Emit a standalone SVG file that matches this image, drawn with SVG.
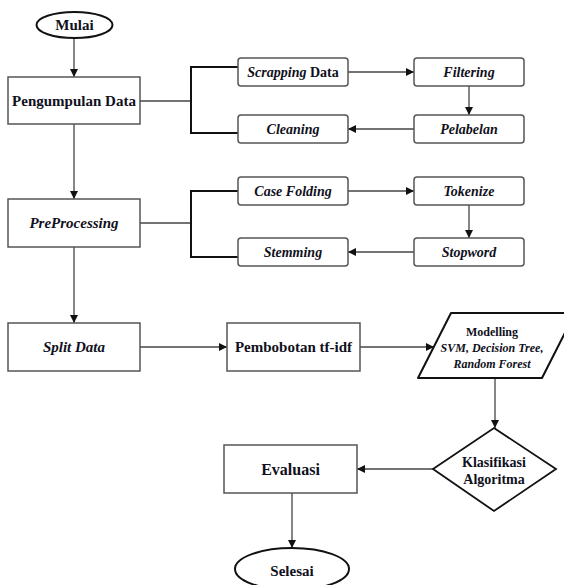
<svg xmlns="http://www.w3.org/2000/svg" width="564" height="585" viewBox="0 0 564 585">
<style>
text{font-family:'Liberation Serif','Times New Roman',serif;font-weight:bold;fill:#101020;text-anchor:middle;dominant-baseline:central}
.it{font-style:italic}
.box{fill:#fff;stroke:#555;stroke-width:1.5}
.sbox{fill:#fff;stroke:#555;stroke-width:1.5}
.term{fill:#fff;stroke:#111;stroke-width:2}
.con{fill:none;stroke:#444;stroke-width:1.3}
.br{fill:none;stroke:#111;stroke-width:2}
</style>
<defs>
<marker id="ah" viewBox="0 0 10 10" refX="10" refY="5" markerWidth="8" markerHeight="8" markerUnits="userSpaceOnUse" orient="auto">
<path d="M0,0 L10,5 L0,10 Z" fill="#111"/>
</marker>
</defs>
<rect width="564" height="585" fill="#fff"/>
<g id="connectors">
<line class="con" x1="74" y1="38" x2="74" y2="77" marker-end="url(#ah)"/>
<line class="con" x1="74" y1="124" x2="74" y2="199" marker-end="url(#ah)"/>
<line class="con" x1="74" y1="247" x2="74" y2="323" marker-end="url(#ah)"/>
<line class="con" x1="140" y1="101" x2="191" y2="101"/>
<path class="br" d="M238,67 H191 V133 H238"/>
<line class="con" x1="140" y1="223" x2="191" y2="223"/>
<path class="br" d="M238,191 H191 V257 H238"/>
<line class="con" x1="348" y1="72" x2="414" y2="72" marker-end="url(#ah)"/>
<line class="con" x1="469" y1="86" x2="469" y2="115" marker-end="url(#ah)"/>
<line class="con" x1="414" y1="129" x2="348" y2="129" marker-end="url(#ah)"/>
<line class="con" x1="348" y1="191" x2="414" y2="191" marker-end="url(#ah)"/>
<line class="con" x1="469" y1="204" x2="469" y2="238" marker-end="url(#ah)"/>
<line class="con" x1="414" y1="252" x2="348" y2="252" marker-end="url(#ah)"/>
<line class="con" x1="140" y1="347" x2="227" y2="347" marker-end="url(#ah)"/>
<line class="con" x1="360" y1="347" x2="434" y2="347" marker-end="url(#ah)"/>
<line class="con" x1="495" y1="378" x2="495" y2="428" marker-end="url(#ah)"/>
<line class="con" x1="433" y1="469" x2="357" y2="469" marker-end="url(#ah)"/>
<line class="con" x1="292" y1="493" x2="292" y2="548" marker-end="url(#ah)"/>
</g>
<g id="mulai">
<ellipse class="term" cx="74.5" cy="25" rx="38" ry="13"/>
<text x="74.5" y="25" font-size="15">Mulai</text>
</g>
<g id="pengumpulan">
<rect class="box" x="8" y="77" width="132" height="47"/>
<text x="74" y="101" font-size="15">Pengumpulan Data</text>
</g>
<g id="preprocessing">
<rect class="box" x="8" y="199" width="132" height="48"/>
<text class="it" x="74" y="223" font-size="15">PreProcessing</text>
</g>
<g id="split">
<rect class="box" x="8" y="323" width="132" height="48"/>
<text class="it" x="74" y="347" font-size="15">Split Data</text>
</g>
<g id="scrapping">
<rect class="sbox" x="238" y="58" width="110" height="28" rx="3"/>
<text x="293" y="72" font-size="14"><tspan class="it">Scrapping</tspan> Data</text>
</g>
<g id="filtering">
<rect class="sbox" x="414" y="58" width="110" height="28" rx="3"/>
<text class="it" x="469" y="72" font-size="14">Filtering</text>
</g>
<g id="cleaning">
<rect class="sbox" x="238" y="115" width="110" height="28" rx="3"/>
<text class="it" x="293" y="129" font-size="14">Cleaning</text>
</g>
<g id="pelabelan">
<rect class="sbox" x="414" y="115" width="110" height="28" rx="3"/>
<text class="it" x="469" y="129" font-size="14">Pelabelan</text>
</g>
<g id="casefolding">
<rect class="sbox" x="238" y="177" width="110" height="28" rx="3"/>
<text class="it" x="293" y="191" font-size="14">Case Folding</text>
</g>
<g id="tokenize">
<rect class="sbox" x="414" y="177" width="110" height="28" rx="3"/>
<text class="it" x="469" y="191" font-size="14">Tokenize</text>
</g>
<g id="stemming">
<rect class="sbox" x="238" y="238" width="110" height="28" rx="3"/>
<text class="it" x="293" y="252" font-size="14">Stemming</text>
</g>
<g id="stopword">
<rect class="sbox" x="414" y="238" width="110" height="28" rx="3"/>
<text class="it" x="469" y="252" font-size="14">Stopword</text>
</g>
<g id="pembobotan">
<rect class="box" x="227" y="323" width="133" height="48"/>
<text x="293.5" y="347" font-size="15">Pembobotan tf-idf</text>
</g>
<g id="modelling">
<path d="M451,313 H575 L542,378 H418 Z" fill="#fff" stroke="#111" stroke-width="2" stroke-linejoin="round"/>
<text x="492" y="332" font-size="12">Modelling</text>
<text class="it" x="492" y="348" font-size="12">SVM, Decision Tree,</text>
<text class="it" x="492" y="364" font-size="12">Random Forest</text>
</g>
<g id="klasifikasi">
<path d="M494,428 L556,469 L494,511 L433,469 Z" fill="#fff" stroke="#111" stroke-width="1.8"/>
<text x="494" y="462" font-size="14">Klasifikasi</text>
<text x="494" y="479" font-size="14">Algoritma</text>
</g>
<g id="evaluasi">
<rect class="box" x="224" y="445" width="133" height="48"/>
<text x="290.5" y="469" font-size="16">Evaluasi</text>
</g>
<g id="selesai">
<ellipse class="term" cx="292" cy="569" rx="57" ry="21"/>
<text x="292" y="571" font-size="15">Selesai</text>
</g>
</svg>
